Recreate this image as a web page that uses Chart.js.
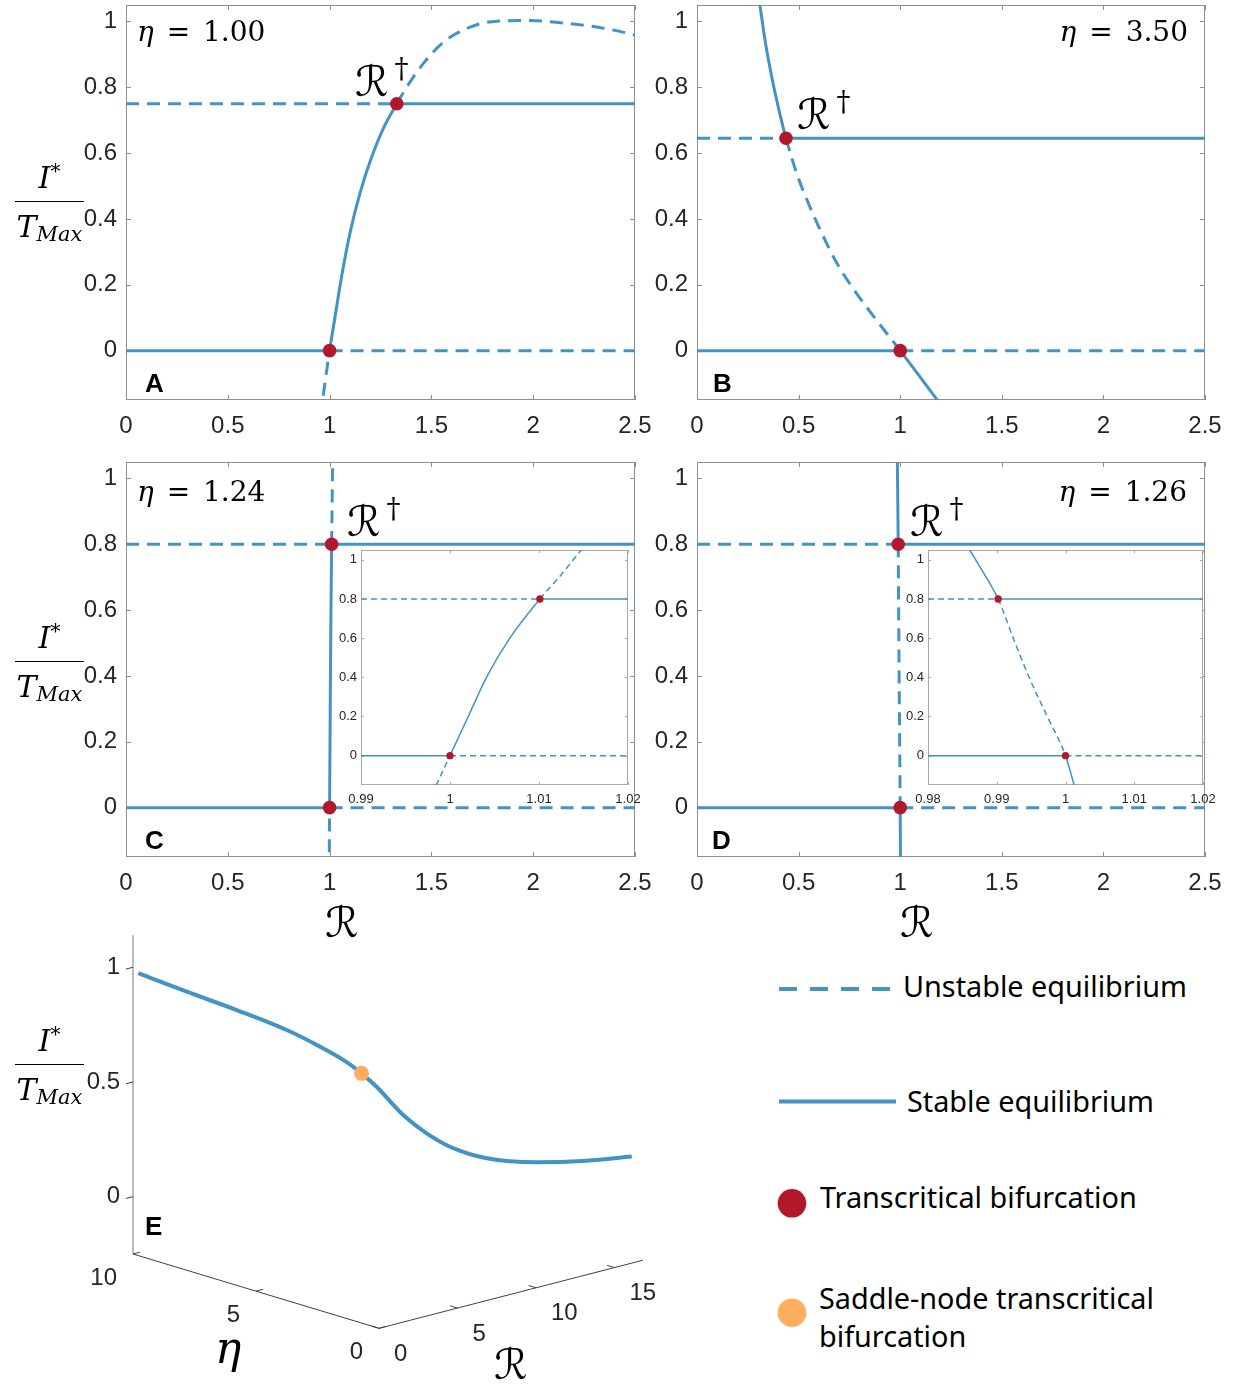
<!DOCTYPE html>
<html lang="en">
<head>
<meta charset="UTF-8" />
<title>Equilibria and bifurcations</title>
<script src="https://cdn.jsdelivr.net/npm/chart.js@4.4.1/dist/chart.umd.min.js"></script>
<style>
  body { margin: 0; background: #fff; }
  #page { position: relative; width: 1239px; height: 1384px; overflow: hidden; }
  .box { position: absolute; }
  .t { position: absolute; white-space: nowrap; line-height: 1; color: #000; }
  .math { font-family: 'DejaVu Serif', 'DejaVu Sans', serif; }
  .eta { font-size: 28px; word-spacing: 4px; }
  .rd { font-size: 42px; }
  .rd sup { font-size: 28px; vertical-align: 18px; line-height: 0; margin-left: 6px; }
  .letter { font-family: 'Liberation Sans', Arial, sans-serif; font-weight: bold; font-size: 26px; }
  .leg { font-family: 'Noto Sans', sans-serif; font-size: 28.8px; }
  .frac { position: absolute; width: 69px; text-align: center; line-height: 1; font-size: 30px; }
  .frac .num { height: 38px; border-bottom: 1.6px solid #000; }
  .frac .num sup { font-size: 20px; vertical-align: 10px; line-height: 0; }
  .frac .den { margin-top: 10px; }
  .frac .den sub { font-size: 21px; vertical-align: -4px; line-height: 0; }
</style>
</head>
<body>
<div id="page">
  <div class="box" style="left:0;top:0"><canvas id="cA" width="660" height="450"></canvas></div>
  <div class="box" style="left:640px;top:0"><canvas id="cB" width="599" height="450"></canvas></div>
  <div class="box" style="left:0;top:457px"><canvas id="cC" width="660" height="450"></canvas></div>
  <div class="box" style="left:640px;top:457px"><canvas id="cD" width="599" height="450"></canvas></div>
  <div class="box" style="left:331px;top:545px"><canvas id="cCi" width="309" height="262"></canvas></div>
  <div class="box" style="left:898px;top:545px"><canvas id="cDi" width="320" height="262"></canvas></div>
  <div class="box" style="left:0;top:920px"><canvas id="cE" width="660" height="464"></canvas></div>

  <!-- y labels -->
  <div class="frac math" style="left:15px;top:163px"><div class="num"><i>I</i><sup>*</sup></div><div class="den"><i>T</i><sub><i>Max</i></sub></div></div>
  <div class="frac math" style="left:15px;top:623px"><div class="num"><i>I</i><sup>*</sup></div><div class="den"><i>T</i><sub><i>Max</i></sub></div></div>
  <div class="frac math" style="left:15px;top:1026px"><div class="num"><i>I</i><sup>*</sup></div><div class="den"><i>T</i><sub><i>Max</i></sub></div></div>

  <!-- x labels -->
  <div class="t math rd" style="left:325px;top:902px">ℛ</div>
  <div class="t math rd" style="left:900px;top:902px">ℛ</div>
  <div class="t math rd" style="left:494px;top:1344px">ℛ</div>
  <div class="t math" style="left:215px;top:1326px;font-size:44px"><i>η</i></div>

  <!-- panel annotations -->
  <div class="t math eta" style="left:137px;top:18px"><i>η</i> = 1.00</div>
  <div class="t math eta" style="right:51px;top:18px"><i>η</i> = 3.50</div>
  <div class="t math eta" style="left:137px;top:478px"><i>η</i> = 1.24</div>
  <div class="t math eta" style="right:52px;top:478px"><i>η</i> = 1.26</div>
  <div class="t math rd" style="left:355px;top:61px">ℛ<sup>†</sup></div>
  <div class="t math rd" style="left:797px;top:94px">ℛ<sup>†</sup></div>
  <div class="t math rd" style="left:347px;top:501px">ℛ<sup>†</sup></div>
  <div class="t math rd" style="left:910px;top:501px">ℛ<sup>†</sup></div>

  <div class="t letter" style="left:145px;top:370px">A</div>
  <div class="t letter" style="left:713px;top:370px">B</div>
  <div class="t letter" style="left:145px;top:827px">C</div>
  <div class="t letter" style="left:712px;top:827px">D</div>
  <div class="t letter" style="left:145px;top:1213px">E</div>

  <!-- legend -->
  <svg class="box" style="left:770px;top:960px" width="140" height="380">
    <line x1="9" y1="29" x2="121" y2="29" stroke="#4393c3" stroke-width="4" stroke-dasharray="18 13"/>
    <line x1="9" y1="141.5" x2="126" y2="141.5" stroke="#4393c3" stroke-width="4"/>
    <circle cx="22" cy="243.3" r="14.3" fill="#b2182b"/>
    <circle cx="22" cy="352.7" r="14.3" fill="#fdae61"/>
  </svg>
  <div class="t leg" style="left:903px;top:972px">Unstable equilibrium</div>
  <div class="t leg" style="left:907px;top:1087px">Stable equilibrium</div>
  <div class="t leg" style="left:820px;top:1183px">Transcritical bifurcation</div>
  <div class="t leg" style="left:819px;top:1284px">Saddle-node transcritical</div>
  <div class="t leg" style="left:819px;top:1322px">bifurcation</div>
</div>

<script>
  // ---------- data ----------
  const X_TICKS = [0, 0.5, 1, 1.5, 2, 2.5];
  const Y_TICKS = [0, 0.2, 0.4, 0.6, 0.8, 1];
  const INSET_C_TICKS = [0.99, 1, 1.01, 1.02];
  const INSET_D_TICKS = [0.98, 0.99, 1, 1.01, 1.02];

  // A: eta = 1.00
  const curveA_R = [0.954, 0.966, 1.0, 1.027, 1.059, 1.100, 1.149, 1.207, 1.264, 1.33, 1.395, 1.460, 1.559, 1.690, 1.821, 1.984, 2.148, 2.312, 2.459, 2.52];
  const curveA_I = [-0.20, -0.148, 0, 0.104, 0.225, 0.357, 0.478, 0.589, 0.675, 0.75, 0.816, 0.872, 0.937, 0.983, 1.001, 1.003, 0.995, 0.983, 0.965, 0.955];
  const bifA = [1.33, 0.75];      // R dagger, I dagger

  // B: eta = 3.50
  const curveB_R = [0.296, 0.310, 0.335, 0.368, 0.400, 0.438, 0.491, 0.548, 0.614, 0.688, 0.769, 0.868, 1.0, 1.180, 1.20];
  const curveB_I = [1.10, 1.048, 0.942, 0.831, 0.740, 0.645, 0.538, 0.448, 0.357, 0.266, 0.188, 0.105, 0, -0.148, -0.165];
  const bifB = [0.438, 0.645];

  // C: eta = 1.24 (curve)
  const curveC_R = [0.9980, 0.99849, 1.0, 1.00205, 1.0041, 1.00672, 1.0101, 1.01233, 1.01477, 1.0155];
  const curveC_I = [-0.20, -0.148, 0, 0.2, 0.4, 0.6, 0.8, 0.915, 1.051, 1.09];
  const bifC = [1.0101, 0.8];

  // D: eta = 1.26 (curve)
  const curveD_R = [0.9854, 0.98606, 0.9881, 0.9902, 0.9924, 0.9947, 0.99735, 1.0, 1.00124, 1.0015];
  const curveD_I = [1.09, 1.051, 0.932, 0.8, 0.6, 0.4, 0.2, 0, -0.148, -0.18];
  const bifD = [0.9902, 0.8];

  // E: stable branch through (R, eta, I) and the saddle-node transcritical point
  const E_R   = [0.10, 0.13, 0.18, 0.28, 0.42, 0.65, 1.00, 1.35, 2.2, 3.3, 4.9, 6.99, 10.14, 13.31, 16.16];
  const E_ETA = [9.85, 7.90, 5.90, 3.93, 2.67, 1.73, 1.35, 0.96, 0.42, 0.17, 0.11, 0.08, 0.06, 0.05, 0.04];
  const E_I   = [0.977, 0.959, 0.943, 0.918, 0.884, 0.843, 0.80, 0.748, 0.627, 0.536, 0.445, 0.365, 0.293, 0.244, 0.212];
  const SN = [1.0, 1.35, 0.80];
  const E_R_TICKS = [0, 5, 10, 15];
  const E_ETA_TICKS = [0, 5, 10];
  const E_I_TICKS = [0, 0.5, 1];

  // ---------- styling ----------
  const BLUE = '#4393c3', RED = '#b2182b', ORANGE = '#fdae61';
  const TICK_COLOR = '#262626';
  const Y_RANGE = [-0.15, 1.05];
  Chart.defaults.font.family = "'Liberation Sans', Arial, sans-serif";

  const fmt = v => String(Math.round(v * 1e4) / 1e4);
  const pts = (xs, ys) => xs.map((x, i) => ({ x, y: ys[i] }));

  // box with inward tick marks, like the original figure
  const framePlugin = {
    id: 'frame',
    beforeDraw(chart, args, o) {
      if (!o.fill) return;
      const { ctx, chartArea: a } = chart;
      ctx.save();
      ctx.fillStyle = o.fill;
      ctx.fillRect(a.left, a.top, a.width, a.height);
      ctx.restore();
    },
    beforeDatasetsDraw(chart, args, o) {
      const { ctx, chartArea: a, scales: { x, y } } = chart;
      ctx.save();
      ctx.strokeStyle = o.color;
      ctx.lineWidth = 1;
      ctx.strokeRect(a.left + 0.5, a.top + 0.5, a.width - 1, a.height - 1);
      ctx.beginPath();
      x.ticks.forEach(t => {
        const px = Math.round(x.getPixelForValue(t.value)) + 0.5;
        ctx.moveTo(px, a.bottom); ctx.lineTo(px, a.bottom - o.tick);
        ctx.moveTo(px, a.top); ctx.lineTo(px, a.top + o.tick);
      });
      y.ticks.forEach(t => {
        const py = Math.round(y.getPixelForValue(t.value)) + 0.5;
        ctx.moveTo(a.left, py); ctx.lineTo(a.left + o.tick, py);
        ctx.moveTo(a.right, py); ctx.lineTo(a.right - o.tick, py);
      });
      ctx.stroke();
      ctx.restore();
    }
  };

  function makeScales(o) {
    const font = { size: o.fontSize };
    return {
      x: {
        type: 'linear', min: o.xRange[0], max: o.xRange[1],
        grid: { display: false, drawTicks: false }, border: { display: false },
        ticks: { autoSkip: false, maxRotation: 0, padding: o.xPad, color: TICK_COLOR, font, callback: fmt },
        afterBuildTicks: s => { s.ticks = o.xTicks.map(value => ({ value })); },
        afterFit: s => { s.height = o.xh; s.paddingLeft = 0; s.paddingRight = 0; }
      },
      y: {
        type: 'linear', min: Y_RANGE[0], max: Y_RANGE[1],
        grid: { display: false, drawTicks: false }, border: { display: false },
        ticks: { padding: o.yPad, color: TICK_COLOR, font, callback: fmt },
        afterBuildTicks: s => { s.ticks = Y_TICKS.map(value => ({ value })); },
        afterFit: s => { s.width = o.yw; s.paddingTop = 0; s.paddingBottom = 0; }
      }
    };
  }

  function panel(id, curveR, curveI, bif, o) {
    const [rD, iD] = bif;
    const [xMin, xMax] = o.xRange;
    const lo = Math.min(1, rD), hi = Math.max(1, rD);
    const midStable = rD > 1;
    const dash = stable => stable ? [] : o.dash;
    const line = { showLine: true, borderColor: BLUE, borderWidth: o.lw, pointRadius: 0, order: 1 };

    new Chart(document.getElementById(id), {
      type: 'scatter',
      data: {
        datasets: [
          { data: [{ x: 1, y: 0 }, { x: rD, y: iD }], pointRadius: o.dot, pointBackgroundColor: RED, pointBorderWidth: 0, order: 0 },
          // I = 0 branch, stable below R = 1
          { ...line, data: [{ x: xMin, y: 0 }, { x: 1, y: 0 }, { x: xMax, y: 0 }],
            segment: { borderDash: c => dash(c.p0.parsed.x < 1) } },
          // I = I-dagger branch, stable beyond R-dagger
          { ...line, data: [{ x: xMin, y: iD }, { x: rD, y: iD }, { x: xMax, y: iD }],
            segment: { borderDash: c => dash(c.p0.parsed.x >= rD) } },
          // curved branch
          { ...line, data: pts(curveR, curveI), cubicInterpolationMode: 'monotone',
            segment: { borderDash: c => {
              const m = (c.p0.parsed.x + c.p1.parsed.x) / 2;
              return dash((m > lo && m < hi) === midStable);
            } } }
        ]
      },
      options: {
        responsive: false, animation: false, events: [],
        layout: { padding: o.pad, autoPadding: false },
        plugins: { legend: { display: false }, tooltip: { enabled: false },
          frame: { color: o.frame, tick: o.tick, fill: o.fill } },
        scales: makeScales(o)
      },
      plugins: [framePlugin]
    });
  }

  const main = { xRange: [0, 2.5], xTicks: X_TICKS, fontSize: 24, xPad: 12, yPad: 9, xh: 50,
    lw: 3, dash: [13, 8], dot: 6.8, frame: '#8f8f8f', tick: 5 };
  const left = { ...main, yw: 126, pad: { top: 5, right: 25, left: 0, bottom: 0 } };
  const right = { ...main, yw: 57, pad: { top: 5, right: 34, left: 0, bottom: 0 } };
  const inset = { fontSize: 13, xPad: 7, yPad: 4, xh: 22, yw: 30, lw: 1.5, dash: [6, 4], dot: 3.7,
    frame: '#a8a8a8', tick: 3, fill: '#ffffff' };

  panel('cA', curveA_R, curveA_I, bifA, left);
  panel('cB', curveB_R, curveB_I, bifB, right);
  panel('cC', curveC_R, curveC_I, bifC, left);
  panel('cD', curveD_R, curveD_I, bifD, right);
  panel('cCi', curveC_R, curveC_I, bifC, { ...inset, xRange: [0.99, 1.02], xTicks: INSET_C_TICKS,
    pad: { top: 5, right: 12, left: 0, bottom: 0 } });
  panel('cDi', curveD_R, curveD_I, bifD, { ...inset, xRange: [0.98, 1.02], xTicks: INSET_D_TICKS,
    pad: { top: 5, right: 15, left: 0, bottom: 0 } });

  // ---------- panel E: orthographic view of (R, eta, I) ----------
  const E_R_MAX = 16.8, E_ETA_MAX = 10, E_I_RANGE = [-0.25, 1.14];
  const VIEW = { rx: 15.7, ry: 4.05, ex: -24.6, ey: 7.43, iz: 229.4 };
  const project = (r, e, i) => ({
    x: r * VIEW.rx + e * VIEW.ex,
    y: r * VIEW.ry + e * VIEW.ey + (i - E_I_RANGE[0]) * VIEW.iz
  });

  const axes3dPlugin = {
    id: 'axes3d',
    beforeDatasetsDraw(chart) {
      const { ctx, scales: { x, y } } = chart;
      const P = (r, e, i) => { const p = project(r, e, i); return [x.getPixelForValue(p.x), y.getPixelForValue(p.y)]; };
      const seg = (a, b, color, w) => {
        ctx.beginPath(); ctx.strokeStyle = color; ctx.lineWidth = w;
        ctx.moveTo(a[0], a[1]); ctx.lineTo(b[0], b[1]); ctx.stroke();
      };
      const zMin = E_I_RANGE[0];
      ctx.save();
      seg(P(0, E_ETA_MAX, zMin), P(0, E_ETA_MAX, E_I_RANGE[1]), '#a6a6a6', 1.5);
      seg(P(0, 0, zMin), P(0, E_ETA_MAX, zMin), '#404040', 1);
      seg(P(0, 0, zMin), P(E_R_MAX, 0, zMin), '#404040', 1);
      ctx.font = "24px 'Liberation Sans', Arial, sans-serif";
      ctx.fillStyle = TICK_COLOR;
      ctx.textBaseline = 'middle';
      E_I_TICKS.forEach(t => {
        const p = P(0, E_ETA_MAX, t);
        seg(p, P(-0.45, E_ETA_MAX, t), '#404040', 1);
        ctx.textAlign = 'right';
        ctx.fillText(fmt(t), p[0] - 13, p[1]);
      });
      E_ETA_TICKS.forEach(t => {
        const p = P(0, t, zMin);
        seg(p, P(0.45, t, zMin), '#404040', 1);
        ctx.textAlign = 'right';
        ctx.fillText(fmt(t), p[0] - 16, p[1] + 24);
      });
      E_R_TICKS.forEach(t => {
        const p = P(t, 0, zMin);
        seg(p, P(t, 0.3, zMin), '#404040', 1);
        ctx.textAlign = 'left';
        ctx.fillText(fmt(t), p[0] + 15, p[1] + 26);
      });
      ctx.restore();
    }
  };

  new Chart(document.getElementById('cE'), {
    type: 'scatter',
    data: {
      datasets: [
        { data: [project(SN[0], SN[1], SN[2])], pointRadius: 7.5, pointBackgroundColor: ORANGE, pointBorderWidth: 0, order: 0 },
        { data: E_R.map((r, i) => project(r, E_ETA[i], E_I[i])), showLine: true, borderColor: BLUE, borderWidth: 4,
          pointRadius: 0, cubicInterpolationMode: 'monotone', order: 1 }
      ]
    },
    options: {
      responsive: false, animation: false, events: [],
      layout: { padding: 0, autoPadding: false },
      plugins: { legend: { display: false }, tooltip: { enabled: false } },
      scales: {
        x: { type: 'linear', display: false, min: -379, max: 281 },
        y: { type: 'linear', display: false, min: -55.7, max: 408.3 }
      }
    },
    plugins: [axes3dPlugin]
  });
</script>
</body>
</html>
